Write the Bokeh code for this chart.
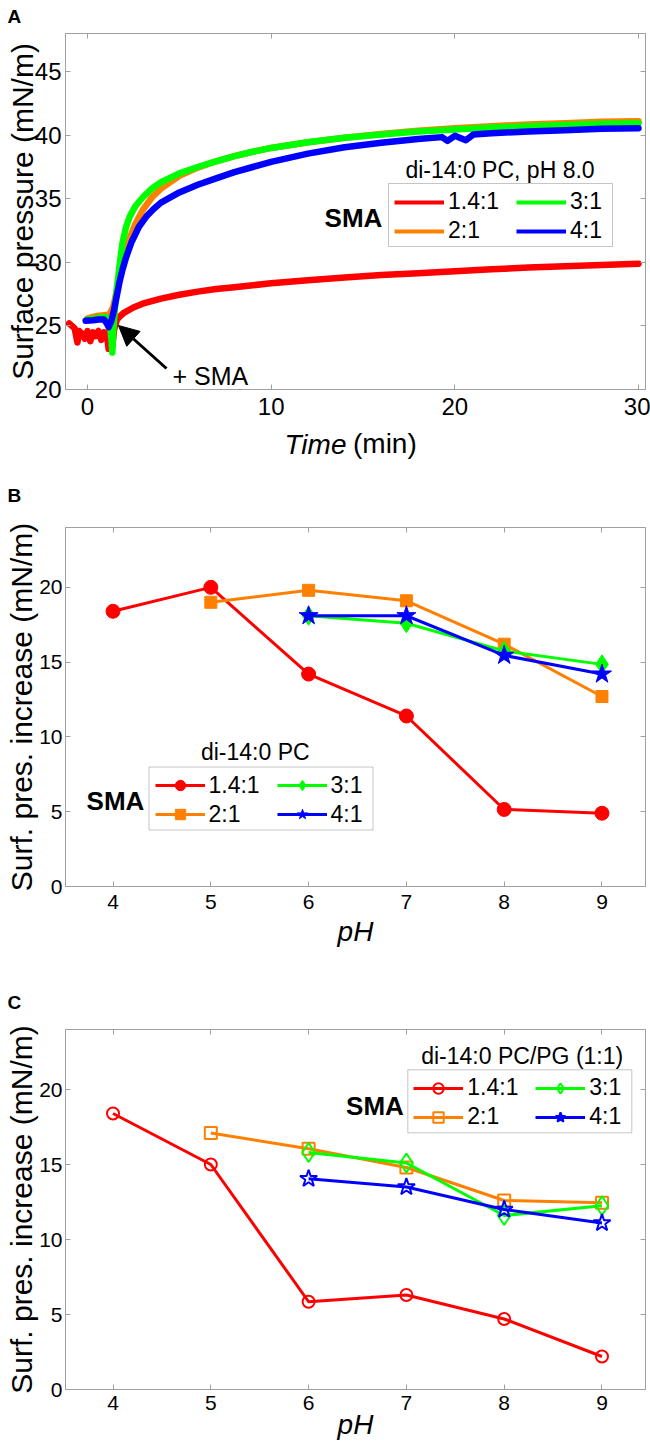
from bokeh.plotting import figure
from bokeh.models import (Range1d, LinearAxis, FixedTicker, Legend, LegendItem,
                          Label, Arrow, NormalHead, BoxAnnotation, Title)
from bokeh.layouts import column
from bokeh.embed import file_html
from bokeh.resources import INLINE

FONT = "Liberation Sans"
GRAY = "#a0a0a0"
RED, ORANGE, GREEN, BLUE = "#ff0000", "#ff8000", "#00ff00", "#0000ff"
SERIES = ["1.4:1", "2:1", "3:1", "4:1"]

# ---------------- Panel A data (time course, di-14:0 PC, pH 8.0) ----------------
red_t = [-1.0, -0.85, -0.7, -0.55, -0.45, -0.3, -0.15, 0.0, 0.15, 0.3, 0.45, 0.6, 0.75, 0.9,
         1.05, 1.15, 1.25, 1.35, 1.45, 1.6, 1.8, 2.0, 2.5, 3.0, 3.5, 4.0, 5.0, 6.0, 7.0, 8.0,
         9.0, 10.0, 12.0, 14.0, 16.0, 18.0, 20.0, 22.0, 24.0, 26.0, 28.0, 30.0]
red_v = [25.2, 25.0, 24.8, 23.7, 24.6, 24.4, 24.0, 24.6, 23.8, 24.5, 24.2, 24.6, 23.9, 24.5,
         24.4, 23.2, 24.6, 23.4, 24.7, 25.5, 25.8, 26.05, 26.45, 26.75, 26.95, 27.15, 27.45, 27.7,
         27.9, 28.05, 28.2, 28.35, 28.6, 28.8, 29.0, 29.15, 29.3, 29.45, 29.6, 29.7, 29.8, 29.9]

orange_t = [0.0, 0.3, 0.6, 0.9, 1.2, 1.4, 1.6, 1.8, 2.0, 2.3, 2.6, 3.0, 3.5, 4.0, 5.0, 6.0,
            7.0, 8.0, 9.0, 10.0, 12.0, 14.0, 16.0, 18.0, 20.0, 22.0, 24.0, 26.0, 28.0, 30.0]
orange_v = [25.6, 25.7, 25.8, 25.85, 25.9, 26.5, 27.8, 29.2, 30.5, 31.9, 33.0, 34.1, 35.1, 35.8,
            36.8, 37.45, 37.95, 38.35, 38.7, 39.0, 39.45, 39.8, 40.1, 40.35, 40.55, 40.7, 40.85,
            40.95, 41.05, 41.1]

green_t = [0.0, 0.5, 1.0, 1.2, 1.3, 1.35, 1.4, 1.5, 1.6, 1.75, 1.9, 2.1, 2.3, 2.6, 3.0, 3.5,
           4.0, 5.0, 6.0, 7.0, 8.0, 9.0, 10.0, 12.0, 14.0, 16.0, 18.0, 20.0, 22.0, 24.0, 26.0,
           28.0, 30.0]
green_v = [25.5, 25.6, 25.7, 25.4, 24.0, 22.9, 24.5, 26.5, 28.0, 29.8, 31.5, 32.8, 33.6, 34.4,
           35.1, 35.8, 36.3, 37.0, 37.5, 37.95, 38.35, 38.7, 39.0, 39.45, 39.8, 40.05, 40.3,
           40.45, 40.6, 40.7, 40.8, 40.9, 40.95]

blue_t = [-0.1, 0.3, 0.6, 0.9, 1.05, 1.15, 1.3, 1.45, 1.6, 1.75, 1.9, 2.1, 2.4, 2.8, 3.2, 3.6,
          4.0, 5.0, 6.0, 7.0, 8.0, 9.0, 10.0, 12.0, 14.0, 16.0, 18.0, 19.3, 19.6, 20.0, 20.6,
          21.0, 22.0, 24.0, 26.0, 28.0, 30.0]
blue_v = [25.4, 25.45, 25.5, 25.5, 25.2, 24.9, 25.4, 26.3, 27.4, 28.5, 29.4, 30.4, 31.6, 32.8,
          33.6, 34.2, 34.7, 35.5, 36.1, 36.6, 37.1, 37.5, 37.9, 38.55, 39.05, 39.4, 39.7, 39.85,
          39.55, 39.95, 39.6, 40.05, 40.15, 40.3, 40.4, 40.5, 40.55]

# ---------------- Panel B data (di-14:0 PC) ----------------
ph_r = [4, 5, 6, 7, 8, 9]
ph_o = [5, 6, 7, 8, 9]
ph_gb = [6, 7, 8, 9]
b_red = [18.4, 20.0, 14.2, 11.4, 5.15, 4.9]
b_orange = [19.0, 19.8, 19.1, 16.2, 12.7]
b_green = [18.1, 17.6, 15.75, 14.85]
b_blue = [18.1, 18.1, 15.45, 14.2]

# ---------------- Panel C data (di-14:0 PC/PG 1:1) ----------------
c_red = [18.4, 15.0, 5.85, 6.3, 4.7, 2.2]
c_orange = [17.1, 16.05, 14.8, 12.6, 12.45]
c_green = [15.8, 15.1, 11.6, 12.25]
c_blue = [14.05, 13.5, 12.0, 11.1]

A_XTICKS = [0, 10, 20, 30]
A_YTICKS = [20, 25, 30, 35, 40, 45]
PH_TICKS = [4, 5, 6, 7, 8, 9]
INC_TICKS = [0, 5, 10, 15, 20]

W = 650
FL, FR = 65, 645  # common frame left/right (column layout aligns plot frames)
# layout geometry (page pixels; the page template has no body margin)
GA = dict(L=FL, R=FR, T=33, B=389, x0=-1.198, x1=30.381, y0=20, y1=48, top=0, bot=476)
GB = dict(L=FL, R=FR, T=527, B=886, x0=3.514, x1=9.445, y0=0, y1=24, top=476, bot=960)
GC = dict(L=FL, R=FR, T=1029, B=1389, x0=3.514, x1=9.445, y0=0, y1=24, top=960, bot=1450)


def to_data(g, px, py):
    x = g["x0"] + (px - g["L"]) / (g["R"] - g["L"]) * (g["x1"] - g["x0"])
    y = g["y0"] + (g["B"] - py) / (g["B"] - g["T"]) * (g["y1"] - g["y0"])
    return x, y


def make_fig(g, xt, yt, tick_px, xstand, ystand, ylabel, ylab_stand, letter, letter_base):
    p = figure(width=W, height=g["bot"] - g["top"],
               x_range=Range1d(g["x0"], g["x1"]), y_range=Range1d(g["y0"], g["y1"]),
               output_backend="svg", toolbar_location=None,
               min_border_left=g["L"], min_border_right=W - g["R"],
               min_border_top=g["T"] - g["top"], min_border_bottom=g["bot"] - g["B"])
    p.background_fill_color = "white"
    p.border_fill_color = "white"
    p.xgrid.visible = False
    p.ygrid.visible = False
    p.outline_line_color = GRAY
    p.outline_line_width = 1
    xa, ya = p.xaxis[0], p.yaxis[0]
    for ax in (xa, ya):
        ax.axis_line_color = GRAY
        ax.major_tick_line_color = GRAY
        ax.major_tick_in = 5
        ax.major_tick_out = 0
        ax.minor_tick_line_color = None
        ax.major_label_text_font = FONT
        ax.major_label_text_font_size = f"{tick_px}px"
        ax.major_label_text_color = "black"
        ax.axis_label_text_font = FONT
        ax.axis_label_text_color = "black"
        ax.axis_label_text_line_height = 1.0
    xa.ticker = FixedTicker(ticks=xt)
    ya.ticker = FixedTicker(ticks=yt)
    xa.major_label_standoff = xstand
    ya.major_label_standoff = ystand
    ya.axis_label = ylabel
    ya.axis_label_text_font_size = "30px"
    ya.axis_label_text_font_style = "normal"
    ya.axis_label_standoff = ylab_stand
    for ticks, side in ((xt, "above"), (yt, "right")):
        ax = LinearAxis(ticker=FixedTicker(ticks=ticks),
                        major_label_overrides={t: "" for t in ticks},
                        major_label_text_font_size="1px",
                        major_label_standoff=0, major_tick_in=5, major_tick_out=0,
                        major_tick_line_color=GRAY, minor_tick_line_color=None,
                        axis_line_color=GRAY)
        p.add_layout(ax, side)
    # panel letter: title with zero layout size, lifted by a negative standoff
    text_top = letter_base - 0.905 * 19
    p.title.text = letter
    p.title.align = "left"
    p.title.vertical_align = "top"
    p.title.offset = 7 - g["L"]
    p.title.standoff = int(round(2 * (text_top - (g["T"] - 1))))
    p.title.text_font = FONT
    p.title.text_font_size = "19px"
    p.title.text_font_style = "bold"
    p.title.text_color = "black"
    return p, xa, ya


def txt(p, g, px, py, text, size, style="normal", align="left", baseline="alphabetic"):
    x, y = to_data(g, px, py)
    p.add_layout(Label(x=x, y=y, text=text, text_font=FONT, text_font_size=f"{size}px",
                       text_font_style=style, text_align=align, text_baseline=baseline,
                       text_color="black"))


def legend_block(p, g, box_left, box_top, title, title_cx, title_cy, sma_cx, sma_cy, items):
    bx0, by0 = to_data(g, box_left, box_top + 63)
    bx1, by1 = to_data(g, box_left + 224, box_top)
    p.add_layout(BoxAnnotation(left=bx0, right=bx1, bottom=by0, top=by1, fill_color="white",
                               fill_alpha=1.0, line_color="#404040", line_width=1))
    cols = [items[:2], items[2:]]
    offs = [6, 128]
    for col, off in zip(cols, offs):
        leg = Legend(items=[LegendItem(label=lab, renderers=rs) for lab, rs in col],
                     location=(box_left + off - g["L"], g["B"] - (box_top + 61)),
                     padding=0, margin=0, spacing=2, glyph_width=50, glyph_height=26,
                     label_height=26, label_standoff=4, border_line_color=None,
                     background_fill_alpha=0, label_text_font=FONT,
                     label_text_font_size="23px", label_text_color="black")
        p.add_layout(leg)
    txt(p, g, title_cx, title_cy, title, 23, align="center", baseline="middle")
    txt(p, g, sma_cx, sma_cy, "SMA", 26, style="bold", align="center", baseline="middle")


# ======================= Panel A =======================
pA, xaA, yaA = make_fig(GA, A_XTICKS, A_YTICKS, 24, 8, 4, "Surface pressure (mN/m)", -7, "A", 21)
legA = []
for t, v, c in ((red_t, red_v, RED), (orange_t, orange_v, ORANGE),
                (green_t, green_v, GREEN), (blue_t, blue_v, BLUE)):
    legA.append(pA.line(t, v, line_color=c, line_width=4))
    pA.line(t, v, line_color=c, line_width=6.5, line_join="round", line_cap="round")
legend_block(pA, GA, 388, 183, "di-14:0 PC, pH 8.0", 499.5, 169, 353, 217,
             [(SERIES[i], [legA[i]]) for i in range(4)])
x0, y0 = to_data(GA, 166, 368)
x1, y1 = to_data(GA, 118, 325)
pA.add_layout(Arrow(end=NormalHead(size=20, fill_color="black", line_color="black"),
                    x_start=x0, y_start=y0, x_end=x1, y_end=y1,
                    line_width=3, line_color="black"))
txt(pA, GA, 172, 375, "+ SMA", 25)
tA1 = Title(text="Time", align="left", offset=284 - GA["L"], standoff=18, text_font=FONT,
            text_font_size="28px", text_font_style="italic", text_color="black")
tA2 = Title(text="(min)", align="left", vertical_align="top", offset=352.5 - GA["L"],
            standoff=-82, text_font=FONT, text_font_size="28px", text_font_style="normal",
            text_color="black")
pA.add_layout(tA1, "below")
pA.add_layout(tA2, "below")


# ======================= Panels B, C =======================
def ph_panel(g, reds, oranges, greens, blues, filled, title, box_left, box_top,
             title_c, sma_c, letter, letter_base, xstand, ph_stand):
    p, xa, ya = make_fig(g, PH_TICKS, INC_TICKS, 21, xstand, 3, "Surf. pres. increase (mN/m)",
                         -2, letter, letter_base)
    xa.axis_label = "pH"
    xa.axis_label_text_font_size = "28px"
    xa.axis_label_text_font_style = "italic"
    xa.axis_label_standoff = ph_stand
    specs = [(ph_r, reds, RED, "circle", 14 if filled else 12),
             (ph_o, oranges, ORANGE, "square", 12),
             (ph_gb, greens, GREEN, "diamond", 19),
             (ph_gb, blues, BLUE, "star", 20 if filled else 18)]
    items = []
    for (xs, ys, c, mk, sz), lab in zip(specs, SERIES):
        rl = p.line(xs, ys, line_color=c, line_width=3)
        if filled:
            rs = p.scatter(xs, ys, marker=mk, size=sz, fill_color=c, line_color=c, line_width=1)
        else:
            rs = p.scatter(xs, ys, marker=mk, size=sz, fill_color=None, line_color=c,
                           line_width=2)
        items.append((lab, [rl, rs]))
    legend_block(p, g, box_left, box_top, title, title_c[0], title_c[1], sma_c[0], sma_c[1],
                 items)
    return p


pB = ph_panel(GB, b_red, b_orange, b_green, b_blue, True, "di-14:0 PC", 148.5, 766.5,
              (254.8, 751.7), (115, 800), "B", 500, 8, 4)
pC = ph_panel(GC, c_red, c_orange, c_green, c_blue, False, "di-14:0 PC/PG (1:1)", 407.3, 1069.3,
              (521.7, 1055), (374.5, 1105), "C", 1007, 6, -4)

layout = column(pA, pB, pC, spacing=0)
open("out.html", "w").write(file_html(layout, INLINE))
